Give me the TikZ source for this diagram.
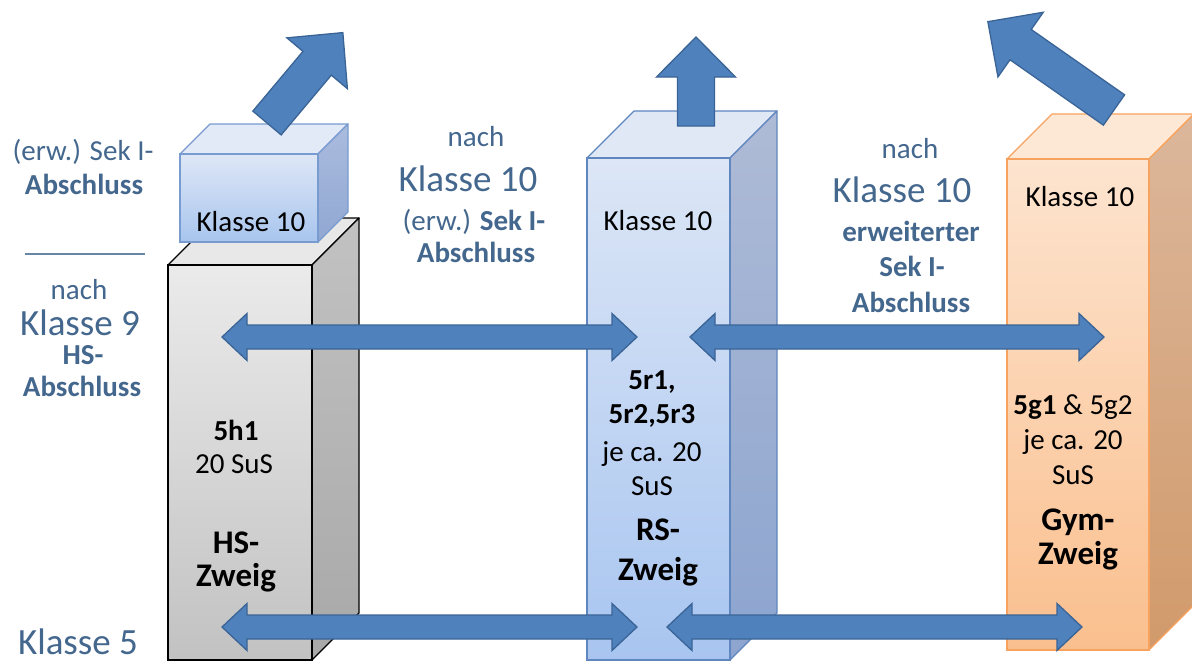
\documentclass[tikz,border=0pt]{standalone}
\usepackage{fontspec}
\setmainfont{Carlito}
\usetikzlibrary{calc}

\definecolor{lblcol}{HTML}{44678E}
\definecolor{arrfill}{HTML}{4F81BD}
\definecolor{arrline}{HTML}{3B6496}

\tikzset{
  blockarrow/.style={fill=arrfill, draw=arrline, line width=1.3pt, line join=miter},
  lbl/.style={text=lblcol, inner sep=0pt, font=\fontsize{29}{34}\selectfont},
  lblbig/.style={text=lblcol, inner sep=0pt, font=\fontsize{37}{44}\selectfont},
  lblbold/.style={text=lblcol, inner sep=0pt, font=\fontsize{29}{34}\selectfont\bfseries},
  boxtxt/.style={text=black, inner sep=0pt, font=\fontsize{29}{34}\selectfont},
  boxbold/.style={text=black, inner sep=0pt, font=\fontsize{29}{34}\selectfont\bfseries},
  branch/.style={text=black, inner sep=0pt, font=\fontsize{33}{38}\selectfont\bfseries},
  divider/.style={draw=lblcol!80!white, line width=2pt},
  % grey column (HS)
  hstop/.style={fill=black!9, draw=black, line width=1.3pt, line join=round},
  hsside/.style={top color=black!24, bottom color=black!34, draw=black, line width=1.3pt, line join=round},
  hsfront/.style={top color=black!8, bottom color=black!24, draw=black, line width=1.3pt},
  % small blue box (class 10 of HS)
  kbtop/.style={fill={rgb,255:red,226;green,234;blue,247}, draw={rgb,255:red,120;green,155;blue,208}, line width=1.2pt, line join=round},
  kbside/.style={top color={rgb,255:red,170;green,188;blue,222}, bottom color={rgb,255:red,145;green,167;blue,210}, draw={rgb,255:red,120;green,155;blue,208}, line width=1.2pt, line join=round},
  kbfront/.style={top color={rgb,255:red,222;green,231;blue,246}, bottom color={rgb,255:red,168;green,197;blue,238}, draw={rgb,255:red,120;green,155;blue,208}, line width=1.2pt},
  % blue column (RS)
  rstop/.style={fill={rgb,255:red,224;green,232;blue,246}, draw={rgb,255:red,95;green,134;blue,191}, line width=1.2pt, line join=round},
  rsside/.style={top color={rgb,255:red,174;green,187;blue,214}, bottom color={rgb,255:red,140;green,164;blue,207}, draw={rgb,255:red,95;green,134;blue,191}, line width=1.2pt, line join=round},
  rsfront/.style={top color={rgb,255:red,220;green,230;blue,246}, bottom color={rgb,255:red,168;green,197;blue,240}, draw={rgb,255:red,95;green,134;blue,191}, line width=1.2pt},
  % orange column (Gym)
  gytop/.style={fill={rgb,255:red,253;green,231;blue,213}, draw={rgb,255:red,247;green,163;blue,95}, line width=1.2pt, line join=round},
  gyside/.style={top color={rgb,255:red,220;green,183;blue,155}, bottom color={rgb,255:red,209;green,154;blue,107}, draw={rgb,255:red,247;green,163;blue,95}, line width=1.2pt, line join=round},
  gyfront/.style={top color={rgb,255:red,253;green,228;blue,207}, bottom color={rgb,255:red,250;green,191;blue,142}, draw={rgb,255:red,247;green,163;blue,95}, line width=1.2pt},
}

% cuboid: left, top, right, bottom, depth, style prefix
\newcommand\quader[6]{%
  \path[#6top] (#1,#2) -- ++(#5,-#5) -- ++(#3-#1,0) -- (#3,#2) -- cycle;
  \path[#6side] (#3,#2) -- ++(#5,-#5) -- ++(0,#4-#2) -- (#3,#4) -- cycle;
  \path[#6front] (#1,#2) rectangle (#3,#4);
}

% single block arrow: tail coordinate, angle, length
\newcommand\blockpfeil[3]{%
  \begin{scope}[shift={(#1)}, rotate=#2]
    \draw[blockarrow] (0,-18.5) -- (#3-40,-18.5) -- (#3-40,-39.5) -- (#3,0)
      -- (#3-40,39.5) -- (#3-40,18.5) -- (0,18.5) -- cycle;
  \end{scope}}

% horizontal double block arrow between two tip coordinates
\newcommand\doppelpfeil[2]{%
  \draw[blockarrow] (#1) -- ($(#1)+(25,-23.5)$) -- ($(#1)+(25,-12)$)
    -- ($(#2)+(-25,-12)$) -- ($(#2)+(-25,-23.5)$) -- (#2)
    -- ($(#2)+(-25,23.5)$) -- ($(#2)+(-25,12)$)
    -- ($(#1)+(25,12)$) -- ($(#1)+(25,23.5)$) -- cycle;}

\begin{document}
\begin{tikzpicture}[x=1pt, y=-1pt]
  \fill[white] (0,0) rectangle (1192,662);
  \path[use as bounding box] (0,0) rectangle (1192,662);

  % columns
  \quader{168}{265}{312}{660}{47}{hs}
  \quader{180}{154}{318}{242}{30}{kb}
  \quader{587}{158}{730}{660}{47}{rs}
  \quader{1007}{159}{1149}{650}{45}{gy}

  % exits after class 9/10
  \coordinate (hsT) at (267,123);
  \coordinate (rsT) at (696,126);
  \coordinate (gyT) at (1114,110);
  \blockpfeil{hsT}{50}{118}
  \blockpfeil{rsT}{90}{89}
  \blockpfeil{gyT}{145}{154}

  % permeability between the branches
  \coordinate (a1l) at (222,337);  \coordinate (a1r) at (637,337);
  \coordinate (a2l) at (690,337);  \coordinate (a2r) at (1104,337);
  \coordinate (a3l) at (222,627);  \coordinate (a3r) at (637,627);
  \coordinate (a4l) at (667,627);  \coordinate (a4r) at (1082,627);
  \doppelpfeil{a1l}{a1r}
  \doppelpfeil{a2l}{a2r}
  \doppelpfeil{a3l}{a3r}
  \doppelpfeil{a4l}{a4r}

  % left margin labels
  \node[lbl]     (l1) at (83,152) {(erw.) Sek I-};
  \node[lblbold] (l2) at (84,184) {Abschluss};
  \coordinate (dl) at (25,254);
  \coordinate (dr) at (145,254);
  \draw[divider] (dl) -- (dr);
  \node[lbl]     (l3) at (79,290) {nach};
  \node[lblbig]  (l4) at (80,323) {Klasse 9};
  \node[lblbold] (l5) at (83,355) {HS-};
  \node[lblbold] (l6) at (82,386) {Abschluss};
  \node[lblbig]  (l7) at (78,642) {Klasse 5};

  % middle labels
  \node[lbl]     (m1) at (476,137) {nach};
  \node[lblbig]  (m2) at (468,179) {Klasse 10};
  \node[lbl]     (m3) at (474,222) {(erw.) \textbf{Sek I-}};
  \node[lblbold] (m4) at (476,252) {Abschluss};

  % right labels
  \node[lbl]     (r1) at (910,149) {nach};
  \node[lblbig]  (r2) at (902,190) {Klasse 10};
  \node[lblbold] (r3) at (911,231) {erweiterter};
  \node[lblbold] (r4) at (912,266) {Sek I-};
  \node[lblbold] (r5) at (911,302) {Abschluss};

  % text in the boxes
  \node[boxtxt]  (k1) at (251,222) {Klasse 10};
  \node[boxtxt]  (k2) at (658,221) {Klasse 10};
  \node[boxtxt]  (k3) at (1080,197) {Klasse 10};

  \node[boxbold] (h1) at (236,430) {5h1};
  \node[boxtxt]  (h2) at (234,464) {20 SuS};
  \node[branch]  (h3) at (236,543) {HS-};
  \node[branch]  (h4) at (236,578) {Zweig};

  \node[boxbold] (s1) at (652,382) {5r1,};
  \node[boxbold] (s2) at (652,416) {5r2,5r3};
  \node[boxtxt]  (s3) at (652,454) {je ca. 20};
  \node[boxtxt]  (s4) at (652,486) {SuS};
  \node[branch]  (s5) at (658,530) {RS-};
  \node[branch]  (s6) at (658,572) {Zweig};

  \node[boxtxt]  (g1) at (1073,407) {\textbf{5g1} \& 5g2};
  \node[boxtxt]  (g2) at (1073,442) {je ca. 20};
  \node[boxtxt]  (g3) at (1073,475) {SuS};
  \node[branch]  (g4) at (1078,522) {Gym-};
  \node[branch]  (g5) at (1078,556) {Zweig};
\end{tikzpicture}
\end{document}
